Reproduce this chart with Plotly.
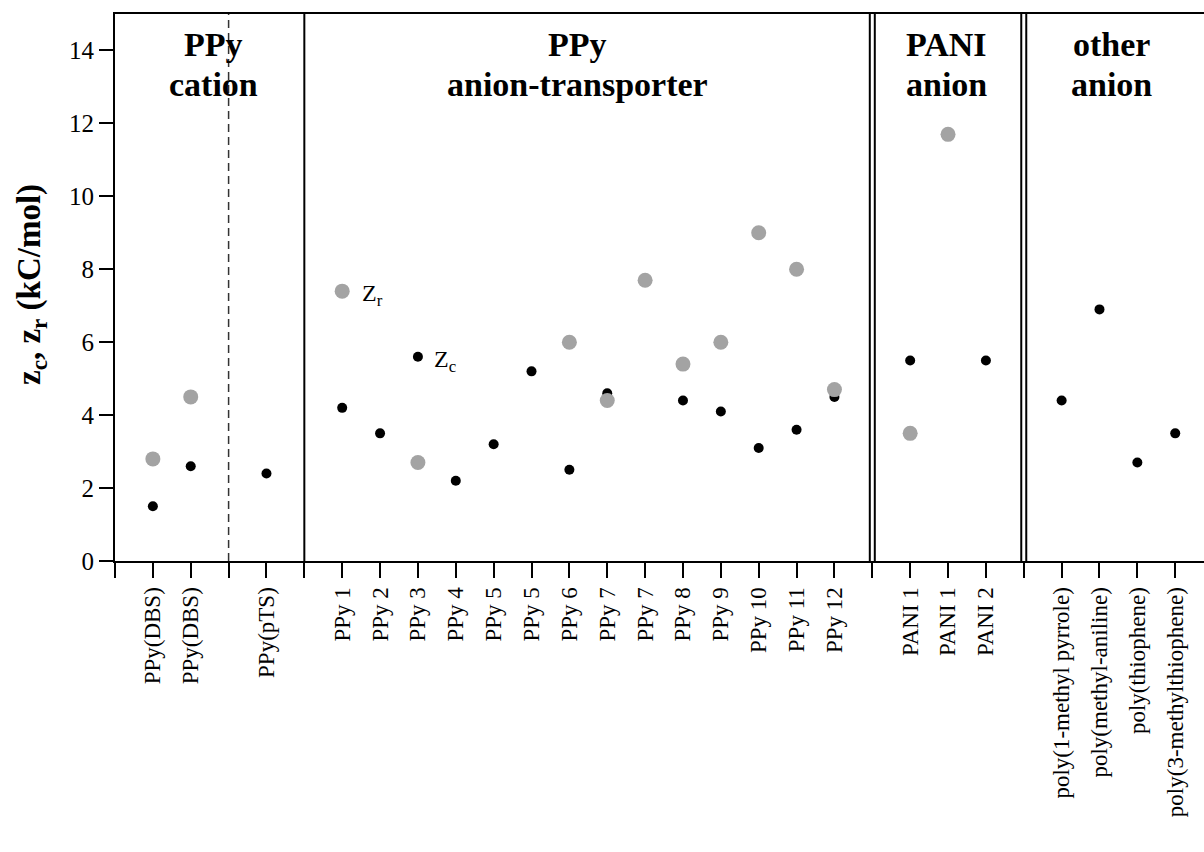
import plotly.graph_objects as go

# Category slots along the x axis (empty strings are spacer slots at the group dividers)
labels = ["", "PPy(DBS)", "PPy(DBS)", "", "PPy(pTS)", "",
          "PPy 1", "PPy 2", "PPy 3", "PPy 4", "PPy 5", "PPy 5", "PPy 6",
          "PPy 7", "PPy 7", "PPy 8", "PPy 9", "PPy 10", "PPy 11", "PPy 12", "",
          "PANI 1", "PANI 1", "PANI 2", "",
          "poly(1-methyl pyrrole)", "poly(methyl-aniline)", "poly(thiophene)",
          "poly(3-methylthiophene)"]

# z_c values (kC/mol), None where not reported
zc = [None, 1.5, 2.6, None, 2.4, None,
      4.2, 3.5, 5.6, 2.2, 3.2, 5.2, 2.5,
      4.6, None, 4.4, 4.1, 3.1, 3.6, 4.5, None,
      5.5, None, 5.5, None,
      4.4, 6.9, 2.7, 3.5]

# z_r values (kC/mol), None where not reported
zr = [None, 2.8, 4.5, None, None, None,
      7.4, None, 2.7, None, None, None, 6.0,
      4.4, 7.7, 5.4, 6.0, 9.0, 8.0, 4.7, None,
      3.5, 11.7, None, None,
      None, None, None, None]

# Group headings (two lines each) and the slot each one is centred over
group_line1 = ["PPy", "PPy", "PANI", "other"]
group_line2 = ["cation", "anion-transporter", "anion", "anion"]
group_x = [2.6, 12.21, 21.96, 26.31]

# Divider slots: dashed, single solid, double solid
dashed_div = [3]
solid_div = [5]
double_div = [20, 24]

pos = list(range(len(labels)))
SERIF = "Liberation Serif, Times New Roman, serif"
PLOT_H = 547  # plot-area height in px (852 - 14 - 291)


def paper_y(px):
    """Convert a pixel row (from the top of the page) into paper y."""
    return 1 - (px - 14) / PLOT_H


fig = go.Figure()
fig.add_trace(go.Scatter(x=pos, y=zc, mode="markers", name="zc",
                         marker=dict(color="black", size=10),
                         showlegend=False))
fig.add_trace(go.Scatter(x=pos, y=zr, mode="markers", name="zr",
                         marker=dict(color="#a3a3a3", size=15),
                         showlegend=False))

shapes = []
for d in dashed_div:
    shapes.append(dict(type="line", xref="x", yref="paper", x0=d, x1=d, y0=0, y1=1,
                       line=dict(color="#333333", width=1.5, dash="8px,5px"), layer="below"))
for d in solid_div:
    shapes.append(dict(type="line", xref="x", yref="paper", x0=d, x1=d, y0=0, y1=1,
                       line=dict(color="black", width=2), layer="below"))
for d in double_div:
    shapes.append(dict(type="line", xref="x", yref="paper", x0=d, x1=d, y0=0, y1=1,
                       line=dict(color="black", width=7), layer="below"))
    shapes.append(dict(type="line", xref="x", yref="paper", x0=d, x1=d, y0=0, y1=1,
                       line=dict(color="white", width=3), layer="below"))

annotations = []
for l1, l2, gx in zip(group_line1, group_line2, group_x):
    for txt, py in ((l1, 44), (l2, 84)):
        annotations.append(dict(x=gx, y=paper_y(py), xref="x", yref="paper",
                                text="<b>" + txt + "</b>",
                                showarrow=False, xanchor="center", yanchor="middle",
                                font=dict(family=SERIF, size=34, color="black")))

# Series labels next to the first point of each series in PPy 1 / PPy 3
annotations.append(dict(x=6, y=zr[6], xref="x", yref="y", text="Z<sub>r</sub>",
                        showarrow=False, xanchor="left", yanchor="middle",
                        xshift=18, yshift=-4,
                        font=dict(family=SERIF, size=24, color="black")))
annotations.append(dict(x=8, y=zc[8], xref="x", yref="y", text="Z<sub>c</sub>",
                        showarrow=False, xanchor="left", yanchor="middle",
                        xshift=14, yshift=-4,
                        font=dict(family=SERIF, size=24, color="black")))

# Y-axis title
annotations.append(dict(x=-84 / 1089, y=paper_y(285), xref="paper", yref="paper",
                        text="<b>z<sub>c</sub>, z<sub>r</sub> (kC/mol)</b>",
                        showarrow=False, textangle=-90, xanchor="center", yanchor="middle",
                        font=dict(family=SERIF, size=33, color="black")))

fig.update_layout(
    width=1204, height=852,
    margin=dict(l=115, r=0, t=14, b=291),
    paper_bgcolor="white", plot_bgcolor="white",
    shapes=shapes, annotations=annotations,
    font=dict(family=SERIF, color="black"),
)

fig.update_xaxes(
    range=[0, 28.76], tickmode="array", tickvals=pos, ticktext=labels,
    tickangle=-90, ticks="outside", ticklen=15, tickwidth=2, tickcolor="black",
    showline=True, linecolor="black", linewidth=2, mirror=True,
    showgrid=False, zeroline=False,
    tickfont=dict(family=SERIF, size=23, color="black"),
)
fig.update_yaxes(
    range=[0, 15], tickmode="array", tickvals=list(range(0, 15, 2)),
    ticks="outside", ticklen=14, tickwidth=2, tickcolor="black",
    showline=True, linecolor="black", linewidth=2, mirror=False,
    showgrid=False, zeroline=False,
    tickfont=dict(family=SERIF, size=25, color="black"),
)

fig.write_html("out.html")
